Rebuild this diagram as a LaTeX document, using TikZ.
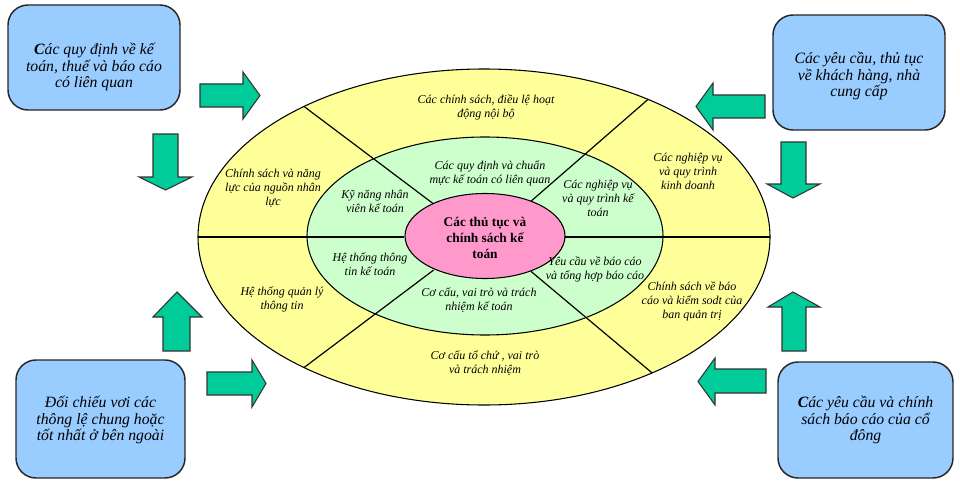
\documentclass[tikz,border=0pt]{standalone}
\usepackage{fontspec}
\setmainfont{Liberation Serif}
\definecolor{boxblue}{HTML}{99CCFF}
\definecolor{arrowgreen}{HTML}{00CC99}
\definecolor{ringyellow}{HTML}{FFFF99}
\definecolor{ringgreen}{HTML}{CCFFCC}
\definecolor{corepink}{HTML}{FF99CC}
\begin{document}
\begin{tikzpicture}[x=0.75pt,y=-0.75pt,
  infobox/.style={draw=black!85,line width=1.1pt,fill=boxblue,rounded corners=15pt},
  boxtext/.style={align=center,font=\itshape\fontsize{11.8}{12.6}\selectfont,inner sep=0pt},
  ringtext/.style={align=center,font=\itshape\fontsize{9}{10.5}\selectfont,inner sep=0pt},
  coretext/.style={align=center,font=\bfseries\fontsize{10}{11.8}\selectfont,inner sep=0pt},
  blockarrow/.style={draw=black!80,line width=0.8pt,fill=arrowgreen,line join=miter},
  ringline/.style={draw=black,line width=0.8pt},
  divider/.style={draw=black,line width=0.9pt}]
\useasboundingbox (0,0) rectangle (960,485);
\fill[white] (0,0) rectangle (960,485);

% boxes
\draw[infobox] (8,5) rectangle (180,110);
\draw[infobox] (773,15) rectangle (945,130);
\draw[infobox] (16,360) rectangle (185,478);
\draw[infobox] (778,362) rectangle (953,478);
\node[boxtext] (b1) at (94,67) {\textbf{C}ác quy định về kế\\toán, thuế và báo cáo\\có liên quan};
\node[boxtext] (b2) at (859,76) {Các yêu cầu, thủ tục\\về khách hàng, nhà\\cung cấp};
\node[boxtext] (b3) at (100.5,420) {Đối chiếu vơi các\\thông lệ chung hoặc\\tốt nhất ở bên ngoài};
\node[boxtext] (b4) at (865.5,420) {\textbf{C}ác yêu cầu và chính\\sách báo cáo của cổ\\đông};

% arrows
\draw[blockarrow] (200,84) -- (243,84) -- (243,72) -- (260,95.5) -- (243,119) -- (243,107) -- (200,107) -- cycle;
\draw[blockarrow] (153,134) -- (178,134) -- (178,177) -- (192,177) -- (165.5,190) -- (139,177) -- (153,177) -- cycle;
\draw[blockarrow] (163,351) -- (163,317) -- (153,317) -- (177,292) -- (202,317) -- (190,317) -- (190,351) -- cycle;
\draw[blockarrow] (207,372) -- (252,372) -- (252,360) -- (266,383.5) -- (252,407) -- (252,395) -- (207,395) -- cycle;
\draw[blockarrow] (765,95) -- (713,95) -- (713,83) -- (696,106.5) -- (713,130) -- (713,118) -- (765,118) -- cycle;
\draw[blockarrow] (781,142) -- (806,142) -- (806,184) -- (820,184) -- (793,198) -- (767,184) -- (781,184) -- cycle;
\draw[blockarrow] (782,351) -- (782,307) -- (768,307) -- (793,292) -- (820,307) -- (806,307) -- (806,351) -- cycle;
\draw[blockarrow] (766,369) -- (715,369) -- (715,358) -- (698,381.5) -- (715,405) -- (715,393) -- (766,393) -- cycle;

% rings
\draw[ringline,fill=ringyellow] (484,237) ellipse [x radius=286, y radius=168];
\draw[ringline,fill=ringgreen] (485,236) ellipse [x radius=178, y radius=99];
\foreach \t in {129,55,231,306}{
  \draw[divider] ({484+80*cos(\t)},{237-42.5*sin(\t)}) -- ({484+286*cos(\t)},{237-168*sin(\t)});
}
\draw[divider] (198,237) -- (404,237);
\draw[divider] (564,237) -- (770,237);
\draw[ringline,fill=corepink] (485,236) ellipse [x radius=80, y radius=42.5];

% outer ring texts
\node[ringtext] (o1) at (486,107) {Các chính sách, điều lệ hoạt\\động nội bộ};
\node[ringtext] (o2) at (273,188) {Chính sách và năng\\lực của nguồn nhân\\lực};
\node[ringtext] (o3) at (688,171) {Các nghiệp vụ\\và quy trình\\kinh doanh};
\node[ringtext] (o4) at (282,299) {Hệ thống quản lý\\thông tin};
\node[ringtext] (o5) at (485,363) {Cơ cấu tổ chứ , vai trò\\và trách nhiệm};
\node[ringtext] (o6) at (692,301) {Chính sách về báo\\cáo và kiểm sodt của\\ban quản trị};

% inner ring texts
\node[ringtext] (i1) at (490,173) {Các quy định và chuẩn\\mực kế toán có liên quan};
\node[ringtext] (i2) at (375,201) {Kỹ năng nhân\\viên kế toán};
\node[ringtext] (i3) at (598,198) {Các nghiệp vụ\\và quy trình kế\\toán};
\node[ringtext] (i4) at (370,264) {Hệ thống thông\\tin kế toán};
\node[ringtext] (i5) at (479,300) {Cơ cấu, vai trò và trách\\nhiệm kế toán};
\node[ringtext] (i6) at (595,269) {Yêu cầu về báo cáo\\và tổng hợp báo cáo};

% core
\node[coretext] (core) at (485,238) {Các thủ tục và\\chính sách kế\\toán};
\end{tikzpicture}
\end{document}
